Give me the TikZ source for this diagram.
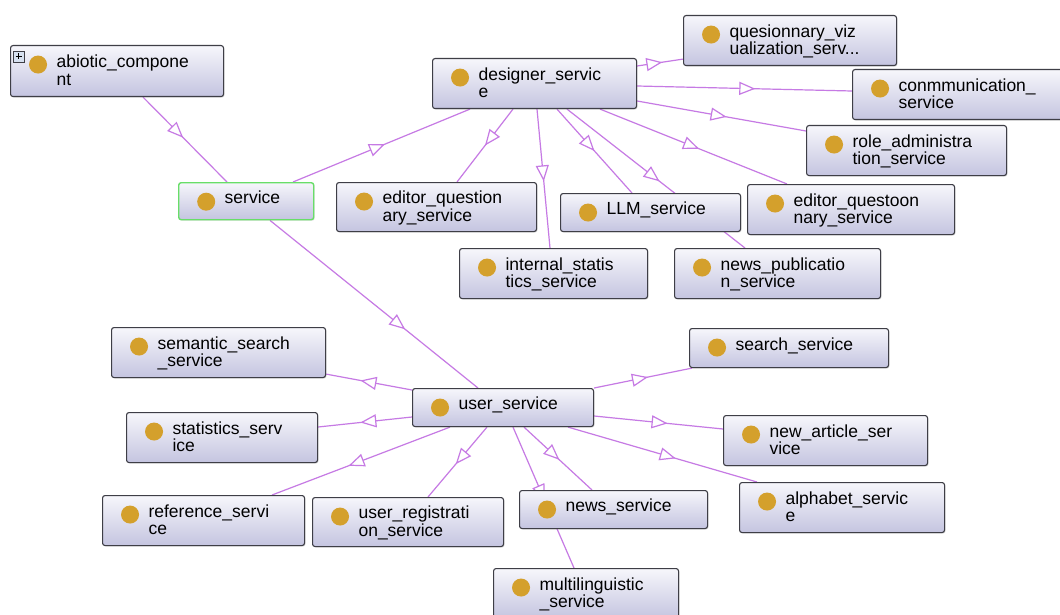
\documentclass[tikz,border=0pt]{standalone}
\usepackage{fontspec}
\setmainfont{Liberation Sans}
\usetikzlibrary{arrows.meta,decorations.markings,backgrounds,shadows}

\definecolor{boxtop}{RGB}{246,246,251}
\definecolor{boxbot}{RGB}{196,196,224}
\definecolor{boxline}{RGB}{62,62,70}
\definecolor{dotgold}{RGB}{212,160,44}
\definecolor{isaline}{RGB}{198,122,228}
\definecolor{selgreen}{RGB}{104,222,104}
\definecolor{plusfill}{RGB}{214,224,240}

\tikzset{
  cls/.style 2 args={draw=boxline, line width=1.1pt, rounded corners=2.5pt,
    top color=boxtop, bottom color=boxbot, anchor=north west,
    inner sep=0pt, minimum width=#1pt, minimum height=#2pt,
    text width=#1pt-92pt, text height=12.5pt, align=left,
    font={\fontsize{17.5}{17.5}\selectfont\hyphenpenalty10000 },
    path picture={\fill[dotgold] ([xshift=27.5pt,yshift=-19pt]path picture bounding box.north west) circle (9pt);},
    drop shadow={opacity=.25, shadow xshift=1pt, shadow yshift=-1pt}},
  oneline/.style={text depth=8.5pt},
  twoline/.style={text depth=19.5pt},
  isa/.style={draw=isaline, line width=1.2pt, postaction={decorate},
    decoration={markings, mark=at position #1 with {\arrow{Triangle[length=16pt,width=13pt,fill=white]}}}},
  isa/.default=0.52
}

\begin{document}
\begin{tikzpicture}[x=1pt, y=-1pt]
    \useasboundingbox (0,0) rectangle (1060,615);

    \node[cls={213}{51}, twoline] (abiotic) at (10,45) {abiotic\_compone\\nt};
    \node[cls={135}{37}, oneline, draw=selgreen, line width=1.4pt] (service) at (178,182) {service};
    \node[cls={204}{50}, twoline] (designer) at (432,58) {designer\_servic\\e};
    \node[cls={213}{50}, twoline] (quesionnary) at (683,15) {quesionnary\_viz\\ualization\_serv...};
    \node[cls={220}{50}, twoline] (conmmunication) at (852,69) {conmmunication\_\\service};
    \node[cls={200}{50}, twoline] (role) at (806,125) {role\_administra\\tion\_service};
    \node[cls={200}{49}, twoline] (editorqa) at (336,182) {editor\_question\\ary\_service};
    \node[cls={180}{38}, oneline] (llm) at (560,193) {LLM\_service};
    \node[cls={207}{50}, twoline] (editorqb) at (747,184) {editor\_questoon\\nary\_service};
    \node[cls={188}{50}, twoline] (internal) at (459,248) {internal\_statis\\tics\_service};
    \node[cls={206}{50}, twoline] (newspub) at (674,248) {news\_publicatio\\n\_service};
    \node[cls={214}{50}, twoline] (semantic) at (111,327) {semantic\_search\\\_service};
    \node[cls={199}{39}, oneline] (search) at (689,328) {search\_service};
    \node[cls={181}{38}, oneline] (user) at (412,388) {user\_service};
    \node[cls={191}{50}, twoline] (statistics) at (126,412) {statistics\_serv\\ice};
    \node[cls={204}{50}, twoline] (newarticle) at (723,415) {new\_article\_ser\\vice};
    \node[cls={202}{50}, twoline] (reference) at (102,495) {reference\_servi\\ce};
    \node[cls={191}{49}, twoline] (registration) at (312,497) {user\_registrati\\on\_service};
    \node[cls={188}{38}, oneline] (news) at (519,490) {news\_service};
    \node[cls={205}{50}, twoline] (alphabet) at (739,482) {alphabet\_servic\\e};
    \node[cls={185}{50}, twoline] (multilinguistic) at (493,568) {multilinguistic\\\_service};

    \draw[boxline, fill=plusfill, line width=.6pt] ([xshift=3pt,yshift=-6pt]abiotic.north west) rectangle +(11,11);
    \draw[black, line width=1pt] ([xshift=5.5pt,yshift=-11.5pt]abiotic.north west) -- +(6,0);
    \draw[black, line width=1pt] ([xshift=8.5pt,yshift=-8.5pt]abiotic.north west) -- +(0,6);

    \begin{scope}[on background layer]
    \fill[white] (0,0) rectangle (1060,615);
    \draw[isa=.48] ([xshift=133pt]abiotic.south west) -- ([xshift=49pt]service.north west);
    \draw[isa] ([xshift=115pt]service.north west) -- ([xshift=38pt]designer.south west);
    \draw[isa=.65] ([xshift=92pt]service.south west) -- ([xshift=66pt]user.north west);

    \draw[isa=.55] ([yshift=-8pt]designer.north east) -- ([yshift=7pt]quesionnary.south west);
    \draw[isa=.55] ([yshift=-28pt]designer.north east) -- ([yshift=-22pt]conmmunication.north west);
    \draw[isa=.53] ([yshift=-43pt]designer.north east) -- ([yshift=-6pt]role.north west);
    \draw[isa=.53] ([xshift=168pt]designer.south west) -- ([xshift=40pt]editorqb.north west);
    \draw[isa=.52] ([xshift=135pt]designer.south west) -- ([xshift=71pt]newspub.north west);
    \draw[isa=.5] ([xshift=125pt]designer.south west) -- ([xshift=72pt]llm.north west);
    \draw[isa=.52] ([xshift=105pt]designer.south west) -- ([xshift=91pt]internal.north west);
    \draw[isa=.5] ([xshift=81pt]designer.south west) -- ([xshift=121pt]editorqa.north west);

    \draw[isa=.6] ([yshift=-2pt]user.north west) -- ([yshift=4pt]semantic.south east);
    \draw[isa=.55] ([yshift=-29pt]user.north west) -- ([yshift=-15pt]statistics.north east);
    \draw[isa=.57] ([xshift=38pt]user.south west) -- ([xshift=170pt]reference.north west);
    \draw[isa=.53] ([xshift=75pt]user.south west) -- ([xshift=116pt]registration.north west);
    \draw[isa] ([xshift=101pt]user.south west) -- ([xshift=81pt]multilinguistic.north west);
    \draw[isa=.52] ([xshift=112pt]user.south west) -- ([xshift=73pt]news.north west);
    \draw[isa=.57] ([xshift=156pt]user.south west) -- ([xshift=18pt]alphabet.north west);
    \draw[isa=.57] ([yshift=-28pt]user.north east) -- ([yshift=-14pt]newarticle.north west);
    \draw[isa=.55] (user.north east) -- ([xshift=3pt]search.south west);
    \end{scope}
\end{tikzpicture}
\end{document}
